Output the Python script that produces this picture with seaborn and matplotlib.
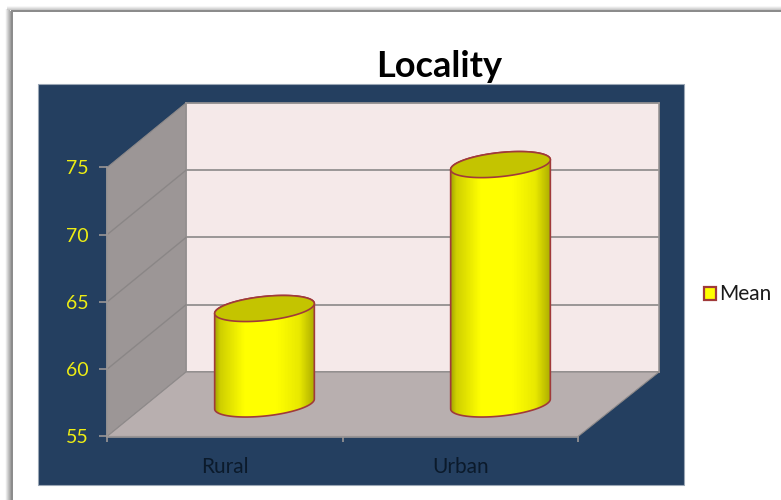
import numpy as np
import pandas as pd
import matplotlib
matplotlib.use("Agg")
import matplotlib.pyplot as plt
import seaborn as sns
from matplotlib.colors import LinearSegmentedColormap
from matplotlib.lines import Line2D
from matplotlib.patches import PathPatch, Polygon, Rectangle
from matplotlib.path import Path

# values
categories = ["Rural", "Urban"]
means = [62.1, 72.8]
y_ticks = [55, 60, 65, 70, 75]
series_name = "Mean"
chart_title = "Locality"

W, H = 781, 500
NAVY = "#243F60"
EDGE = "#A03A3A"
GRID = "#9A9696"
YELLOW_TXT = "#EDED14"

sns.set_style("white")
plt.rcParams["font.family"] = ["Lato", "DejaVu Sans"]

df = pd.DataFrame({"locality": categories, "mean": means})
fig = plt.figure(figsize=(W / 100, H / 100), dpi=100, facecolor="white")


def fig_xy(x, y):
    # picture pixels (y down) to figure fractions
    return x / W, 1 - y / H


def add_axes_px(left, top, right, bottom, z):
    x0, y1 = fig_xy(left, top)
    x1, y0 = fig_xy(right, bottom)
    ax = fig.add_axes([x0, y0, x1 - x0, y1 - y0], zorder=z)
    ax.set_xlim(-0.5, 1.5)
    ax.set_ylim(55, 75)
    return ax


def to_fig(ax, x, y):
    return fig.transFigure.inverted().transform(ax.transData.transform((x, y)))


# page frame with soft shadow, left and top
for i in range(7):
    shade = str(0.98 - 0.07 * i)
    fig.add_artist(Rectangle(fig_xy(5 + i, H), 1 / W, 1 - (9 + i * 0.3) / H, transform=fig.transFigure,
                             fc=shade, ec="none", zorder=-3))
for i in range(4):
    shade = str(0.97 - 0.06 * i)
    fig.add_artist(Rectangle(fig_xy(7, 7 + i), 1, 1 / H, transform=fig.transFigure,
                             fc=shade, ec="none", zorder=-3))
fig.add_artist(Rectangle(fig_xy(11, H), 1.6 / W, 1 - 10 / H, transform=fig.transFigure,
                         fc="#8C8C8C", ec="none", zorder=-2))
fig.add_artist(Rectangle(fig_xy(11, 11.6), 1, 1.6 / H, transform=fig.transFigure,
                         fc="#8C8C8C", ec="none", zorder=-2))

# navy chart area
nx, ny = fig_xy(38, 485)
fig.add_artist(Rectangle((nx, ny), (684 - 38) / W, (485 - 84) / H, transform=fig.transFigure,
                         fc=NAVY, ec="#9AA6B5", lw=0.8, zorder=-1))

# back wall
ax_back = add_axes_px(186, 103, 659, 372, 0)
ax_back.set_facecolor("#F5E9E9")
ax_back.set_yticks(y_ticks)
ax_back.set_xticks([])
ax_back.tick_params(left=False, labelleft=False, bottom=False)
ax_back.grid(axis="y", color=GRID, lw=1.4)
ax_back.set_axisbelow(True)
for s in ax_back.spines.values():
    s.set_color(GRID)
    s.set_linewidth(1.2)

# front plane carries the axes and labels
ax_front = add_axes_px(107, 167.5, 578, 436.5, 2)
ax_front.patch.set_alpha(0)
ax_front.set_yticks(y_ticks)
ax_front.set_xticks([0, 1])
ax_front.set_xticklabels(categories)
ax_front.set_xticks([-0.5, 0.5, 1.5], minor=True)
ax_front.tick_params(axis="y", length=5.5, width=1.2, color=GRID, colors=YELLOW_TXT,
                     labelsize=14, pad=7.5, left=True)
ax_front.tick_params(axis="y", color=GRID)
ax_front.tick_params(axis="x", which="major", length=0, pad=15, labelsize=15,
                     labelcolor="#0B1A2B")
ax_front.tick_params(axis="x", which="minor", length=3.5, width=1.2, color=GRID, bottom=True)
for name, s in ax_front.spines.items():
    s.set_visible(name in ("left", "bottom"))
    s.set_color(GRID)
    s.set_linewidth(1.2)

# side wall and floor join the two planes
lt_f, lb_f = to_fig(ax_front, -0.5, 75), to_fig(ax_front, -0.5, 55)
rb_f = to_fig(ax_front, 1.5, 55)
lt_b, lb_b = to_fig(ax_back, -0.5, 75), to_fig(ax_back, -0.5, 55)
rb_b = to_fig(ax_back, 1.5, 55)
fig.add_artist(Polygon([lt_f, lt_b, lb_b, lb_f], closed=True, transform=fig.transFigure,
                       fc="#9C9696", ec="#8E8A8A", lw=0.8, zorder=1))
fig.add_artist(Polygon([lb_f, lb_b, rb_b, rb_f], closed=True, transform=fig.transFigure,
                       fc="#B8AFAF", ec="#8E8A8A", lw=0.8, zorder=1))
for v in y_ticks[1:-1]:
    a, b = to_fig(ax_front, -0.5, v), to_fig(ax_back, -0.5, v)
    fig.add_artist(Line2D([a[0], b[0]], [a[1], b[1]], transform=fig.transFigure,
                          color="#8A8686", lw=1.0, zorder=1.5))

# cylinders sit half way between front and back
ax_cyl = add_axes_px(146.5, 135, 618.5, 404, 3)
ax_cyl.patch.set_alpha(0)
sns.barplot(data=df, x="locality", y="mean", ax=ax_cyl, width=0.4246, color="#FFFF00",
            saturation=1, edgecolor=EDGE, linewidth=1.6, label=series_name)
ax_cyl.set_xlim(-0.5, 1.5)
ax_cyl.set_ylim(55, 75)
ax_cyl.set_axis_off()

handles, labels = ax_cyl.get_legend_handles_labels()
leg = ax_cyl.legend(handles, labels, loc="center left", frameon=False, fontsize=15,
                    bbox_to_anchor=fig_xy(704, 294.5), bbox_transform=fig.transFigure,
                    handlelength=0.58, handleheight=0.58, handletextpad=0.16,
                    borderpad=0, borderaxespad=0)
for t in leg.get_texts():
    t.set_color("#1A1A1A")

shade_cmap = LinearSegmentedColormap.from_list(
    "cyl", [(0, "#9E9E00"), (0.06, "#CFCF00"), (0.3, "#FFFF00"), (0.62, "#FFFF00"),
            (0.85, "#E8E800"), (1, "#ACAC00")])

# pixels per data unit on the cylinder plane
px_x = 472 / 2
px_y = 269 / 20
tilt = np.radians(6)
semi_b = 12.0


def ellipse_pts(cx, val, semi_a, t):
    dx = semi_a * np.cos(t) * np.cos(tilt) - semi_b * np.sin(t) * np.sin(tilt)
    dy = semi_a * np.cos(t) * np.sin(tilt) + semi_b * np.sin(t) * np.cos(tilt)
    return np.column_stack([cx + dx / px_x, val + dy / px_y])


for bar in list(ax_cyl.patches):
    x0, wd, top = bar.get_x(), bar.get_width(), bar.get_height()
    cx = x0 + wd / 2
    bar.set_visible(False)
    semi_a = wd * px_x / 2
    t_r = np.arctan(-(semi_b / semi_a) * np.tan(tilt))

    low = ellipse_pts(cx, 55, semi_a, np.linspace(t_r + np.pi, t_r + 2 * np.pi, 60))
    up = ellipse_pts(cx, top, semi_a, np.linspace(t_r, t_r + np.pi, 60))
    body = PathPatch(Path(np.vstack([low, up, low[:1]]), closed=False), fc="none", ec=EDGE,
                     lw=1.2, zorder=4, clip_on=False, transform=ax_cyl.transData)
    ax_cyl.add_patch(body)

    img = ax_cyl.imshow(np.linspace(0, 1, 200)[None, :], cmap=shade_cmap, aspect="auto",
                        extent=(x0, x0 + wd, 53, top + 2), zorder=3)
    img.set_clip_box(fig.bbox)
    img.set_clip_path(body)

    cap = ellipse_pts(cx, top, semi_a, np.linspace(0, 2 * np.pi, 120))
    ax_cyl.add_patch(Polygon(cap, closed=True, fc="#C4C400", ec=EDGE, lw=1.2, zorder=5,
                             clip_on=False))

ax_cyl.set_xlim(-0.5, 1.5)
ax_cyl.set_ylim(55, 75)

tx, ty = fig_xy(439.5, 77)
fig.text(tx, ty, chart_title, ha="center", va="baseline", fontsize=26, fontweight="bold",
         color="black")

fig.savefig("out.png", dpi=100)
